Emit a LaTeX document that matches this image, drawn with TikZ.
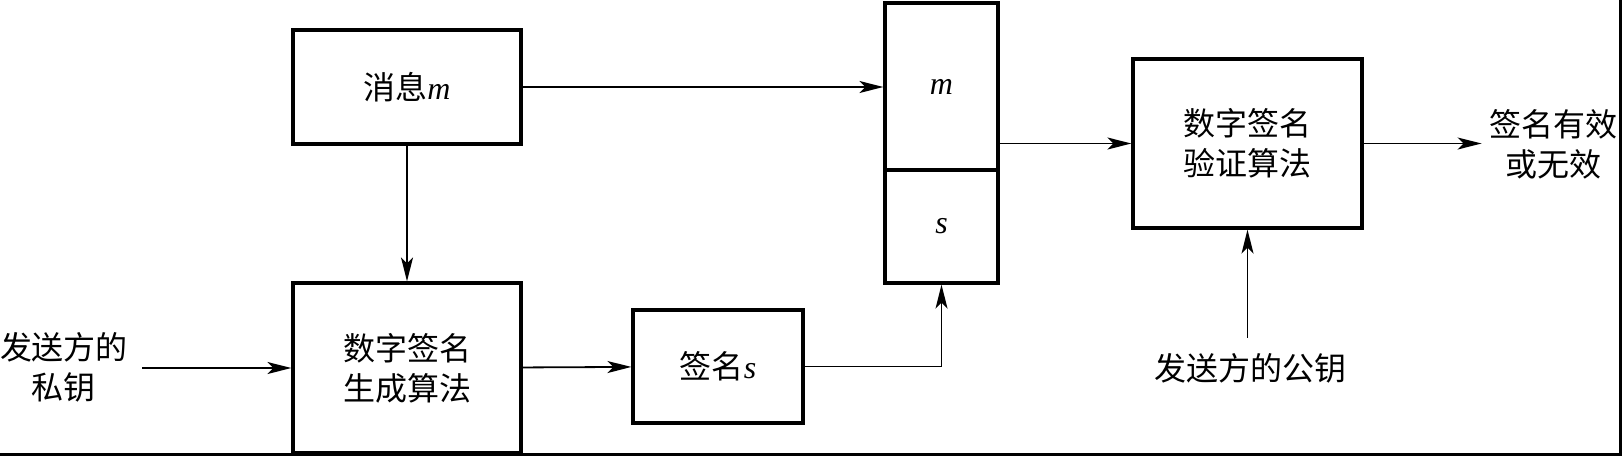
\documentclass[tikz,border=0pt]{standalone}
\usepackage{fontspec}
\setmainfont{Liberation Serif}
\newfontfamily\cjk{Noto Sans CJK SC}
\newcommand\vname[1]{\textrm{\textit{#1}}}
\usetikzlibrary{arrows.meta,positioning}

\begin{document}
\begin{tikzpicture}[x=0.5pt, y=-0.5pt,
		every node/.style = {font=\cjk\fontsize{16}{20}\selectfont, align=center},
		blk/.style = {draw, line width=1.6pt, inner sep=0pt},
		lbl/.style = {inner sep=0pt},
		>={Stealth[length=12pt, width=6pt, inset=3pt]},
		flow/.style = {->, line width=0.9pt}]

			\useasboundingbox (0,0) rectangle (1622,456);
			\draw[line width=1.5pt] (0,454) -- (1620,454) -- (1620,0);

			\node[blk, minimum width=114pt, minimum height=57pt]	(msg) at (407,87)	{消息\vname{m}};
			\node[blk, minimum width=114pt, minimum height=85pt]	(gen) at (407,368)	{数字签名\\生成算法};
			\node[blk, minimum width=85pt, minimum height=56.5pt]	(sig) at (718,366.5)	{签名\vname{s}};
			\node[blk, minimum width=56.5pt, minimum height=83.5pt]	(pm) at (941.5,86.5)	{\vname{m}};
			\node[blk, minimum width=56.5pt, minimum height=56.5pt]	(ps) at (941.5,226.5)	{\vname{s}};
			\node[blk, minimum width=114.5pt, minimum height=84.5pt]	(ver) at (1247.5,143.5)	{数字签名\\验证算法};

			\node[lbl] (priv) at (64,367)	{发送方的\\私钥};
			\node[lbl] (pub) at (1250,368)	{发送方的公钥};
			\node[lbl] (res) at (1553,144)	{签名有效\\或无效};

			\draw[flow] (msg.east) -- (msg.east -| pm.west);
			\draw[flow] (msg) -- (gen);
			\draw[flow, shorten <=7pt] (priv.east |- gen) -- (gen.west);
			\draw[flow] (gen) -- (sig);
			\draw[flow] (sig.east) -| (ps.south);
			\draw[flow] (pm.east |- ver.west) -- (ver.west);
			\draw[flow, shorten >=3.5pt] (ver.east) -- (res.west |- ver.east);
			\draw[flow, shorten <=7.5pt] (pub.north -| ver) -- (ver.south);
		\end{tikzpicture}
\end{document}
